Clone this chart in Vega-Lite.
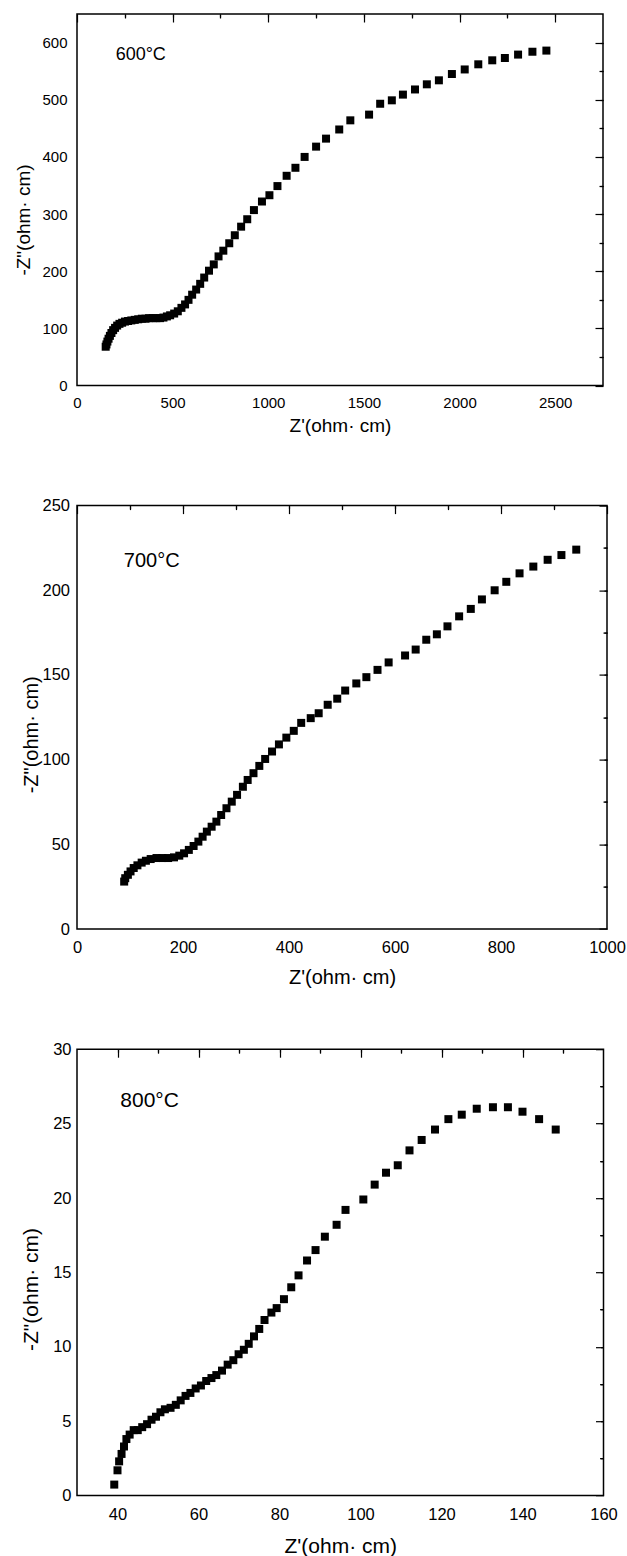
{
  "$schema": "https://vega.github.io/schema/vega-lite/v6.json",
  "autosize": {"type": "pad"},
  "padding": {"left": 13, "top": 12, "right": 5, "bottom": 4},
  "spacing": 119.6,
  "bounds": "flush",
  "config": {
    "font": "Liberation Sans",
    "view": {"stroke": "black", "strokeWidth": 1.5},
    "axis": {"grid": false, "domain": false, "labelColor": "black", "titleColor": "black", "tickColor": "black", "tickWidth": 1.2, "labelFont": "Liberation Sans", "titleFont": "Liberation Sans", "titleFontWeight": "normal", "labelFlush": false, "labelOverlap": false, "format": "d"}
  },
  "datasets": {
    "d600": [
      {"zr":150,"zi":68},{"zr":154,"zi":72},{"zr":159,"zi":77},{"zr":165,"zi":82},{"zr":172,"zi":87},{"zr":180,"zi":92},{"zr":189,"zi":97},{"zr":199,"zi":101},{"zr":210,"zi":105},{"zr":222,"zi":108},{"zr":236,"zi":110},{"zr":251,"zi":112},{"zr":267,"zi":113},{"zr":284,"zi":114},{"zr":302,"zi":115},{"zr":320,"zi":116},{"zr":339,"zi":117},{"zr":358,"zi":117},{"zr":377,"zi":118},{"zr":396,"zi":118},{"zr":415,"zi":118},{"zr":434,"zi":118},{"zr":452,"zi":119},{"zr":470,"zi":121},{"zr":487,"zi":123},{"zr":508,"zi":126},{"zr":527,"zi":130},{"zr":546,"zi":136},{"zr":565,"zi":142},{"zr":583,"zi":150},{"zr":602,"zi":159},{"zr":623,"zi":168},{"zr":644,"zi":178},{"zr":665,"zi":189},{"zr":690,"zi":201},{"zr":715,"zi":212},{"zr":740,"zi":226},{"zr":765,"zi":236},{"zr":796,"zi":249},{"zr":825,"zi":263},{"zr":858,"zi":278},{"zr":890,"zi":291},{"zr":925,"zi":307},{"zr":967,"zi":322},{"zr":1006,"zi":333},{"zr":1048,"zi":349},{"zr":1096,"zi":367},{"zr":1142,"zi":381},{"zr":1190,"zi":400},{"zr":1250,"zi":418},{"zr":1302,"zi":432},{"zr":1371,"zi":448},{"zr":1429,"zi":464},{"zr":1527,"zi":474},{"zr":1585,"zi":493},{"zr":1646,"zi":499},{"zr":1704,"zi":509},{"zr":1767,"zi":518},{"zr":1829,"zi":527},{"zr":1892,"zi":534},{"zr":1960,"zi":545},{"zr":2027,"zi":553},{"zr":2098,"zi":562},{"zr":2171,"zi":569},{"zr":2237,"zi":573},{"zr":2306,"zi":579},{"zr":2381,"zi":584},{"zr":2454,"zi":586}
    ],
    "d700": [
      {"zr":89,"zi":28},{"zr":91,"zi":30},{"zr":96,"zi":32},{"zr":101,"zi":34},{"zr":107,"zi":36},{"zr":114,"zi":37.6},{"zr":122,"zi":39.2},{"zr":130,"zi":40.3},{"zr":139,"zi":41.3},{"zr":150,"zi":41.9},{"zr":161,"zi":41.9},{"zr":172,"zi":41.9},{"zr":183,"zi":42.3},{"zr":193,"zi":43.3},{"zr":202,"zi":44.7},{"zr":211,"zi":46.7},{"zr":220,"zi":49},{"zr":229,"zi":51.6},{"zr":237,"zi":54.5},{"zr":245,"zi":57.5},{"zr":254,"zi":60.4},{"zr":263,"zi":63.4},{"zr":272,"zi":67.3},{"zr":282,"zi":71.3},{"zr":292,"zi":75.2},{"zr":302,"zi":79.2},{"zr":313,"zi":84},{"zr":322,"zi":88},{"zr":333,"zi":92},{"zr":344,"zi":96.3},{"zr":355,"zi":100.4},{"zr":368,"zi":104.8},{"zr":381,"zi":109},{"zr":395,"zi":113},{"zr":409,"zi":117},{"zr":423,"zi":121.7},{"zr":441,"zi":124.5},{"zr":456,"zi":127.4},{"zr":473,"zi":132.4},{"zr":491,"zi":136},{"zr":506,"zi":140.8},{"zr":527,"zi":145},{"zr":546,"zi":148.7},{"zr":567,"zi":153},{"zr":588,"zi":157.4},{"zr":619,"zi":161.5},{"zr":639,"zi":165},{"zr":659,"zi":170.8},{"zr":679,"zi":174},{"zr":699,"zi":178.7},{"zr":721,"zi":184.6},{"zr":743,"zi":189},{"zr":764,"zi":194.6},{"zr":788,"zi":200},{"zr":810,"zi":205},{"zr":835,"zi":210},{"zr":861,"zi":214},{"zr":888,"zi":218},{"zr":914,"zi":220.8},{"zr":942,"zi":224}
    ],
    "d800": [
      {"zr":39.2,"zi":0.74},{"zr":40.0,"zi":1.7},{"zr":40.4,"zi":2.3},{"zr":41.0,"zi":2.8},{"zr":41.6,"zi":3.3},{"zr":42.2,"zi":3.8},{"zr":43.0,"zi":4.1},{"zr":44.0,"zi":4.4},{"zr":45.0,"zi":4.4},{"zr":46.1,"zi":4.6},{"zr":47.3,"zi":4.8},{"zr":48.4,"zi":5.1},{"zr":49.5,"zi":5.3},{"zr":50.6,"zi":5.6},{"zr":51.7,"zi":5.8},{"zr":53.1,"zi":5.9},{"zr":54.4,"zi":6.1},{"zr":55.6,"zi":6.4},{"zr":56.8,"zi":6.7},{"zr":58.0,"zi":6.9},{"zr":59.3,"zi":7.2},{"zr":60.6,"zi":7.4},{"zr":61.9,"zi":7.7},{"zr":63.2,"zi":7.9},{"zr":64.4,"zi":8.1},{"zr":65.8,"zi":8.4},{"zr":67.2,"zi":8.8},{"zr":68.6,"zi":9.1},{"zr":69.9,"zi":9.5},{"zr":71.2,"zi":9.8},{"zr":72.4,"zi":10.2},{"zr":73.7,"zi":10.7},{"zr":75.0,"zi":11.2},{"zr":76.3,"zi":11.8},{"zr":78.0,"zi":12.3},{"zr":79.3,"zi":12.6},{"zr":81.1,"zi":13.2},{"zr":82.9,"zi":14.0},{"zr":84.7,"zi":14.8},{"zr":86.8,"zi":15.8},{"zr":88.9,"zi":16.5},{"zr":91.2,"zi":17.4},{"zr":94.1,"zi":18.2},{"zr":96.3,"zi":19.2},{"zr":100.7,"zi":19.9},{"zr":103.5,"zi":20.9},{"zr":106.3,"zi":21.7},{"zr":109.2,"zi":22.2},{"zr":112.1,"zi":23.2},{"zr":115.1,"zi":23.9},{"zr":118.4,"zi":24.6},{"zr":121.7,"zi":25.3},{"zr":125.0,"zi":25.6},{"zr":128.7,"zi":26.0},{"zr":132.7,"zi":26.1},{"zr":136.4,"zi":26.1},{"zr":140.0,"zi":25.8},{"zr":144.1,"zi":25.3},{"zr":148.2,"zi":24.6}
    ],
    "one": [{"k": 1}]
  },
  "vconcat": [
    {
      "width": 526, "height": 371.6,
      "data": {"name": "d600"},
      "resolve": {"axis": {"x": "independent", "y": "independent"}},
      "layer": [
        {
          "mark": {"type": "point", "shape": "square", "filled": true, "size": 64, "color": "black", "opacity": 1},
          "encoding": {
            "x": {"field": "zr", "type": "quantitative", "scale": {"domain": [0, 2750], "nice": false, "zero": false},
              "axis": {"title": "Z'(ohm· cm)", "format": "d", "values": [0, 500, 1000, 1500, 2000, 2500], "ticks": false, "labelFontSize": 15, "labelPadding": 9.6, "labelBaseline": "top", "titleFontSize": 19, "titleBaseline": "alphabetic", "titleY": 45.7}},
            "y": {"field": "zi", "type": "quantitative", "scale": {"domain": [0, 650], "nice": false, "zero": false},
              "axis": {"title": "-Z\"(ohm· cm)", "format": "d", "values": [0, 100, 200, 300, 400, 500, 600], "ticks": false, "labelFontSize": 15, "labelPadding": 10, "titleFontSize": 19, "titleAngle": -90, "titleBaseline": "alphabetic", "titleAlign": "center", "titleX": -48, "titleY": 205.5}}
          }
        },
        {
          "mark": {"type": "point", "opacity": 0},
          "encoding": {
            "x": {"field": "zr", "type": "quantitative", "scale": {"domain": [0, 2750], "nice": false, "zero": false}, "axis": {"labels": false, "title": null, "values": [0, 500, 1000, 1500, 2000, 2500], "tickSize": -8}},
            "y": {"field": "zi", "type": "quantitative", "scale": {"domain": [0, 650], "nice": false, "zero": false}, "axis": {"labels": false, "title": null, "values": [0, 100, 200, 300, 400, 500, 600], "tickSize": -8}}
          }
        },
        {
          "mark": {"type": "point", "opacity": 0},
          "encoding": {
            "x": {"field": "zr", "type": "quantitative", "scale": {"domain": [0, 2750], "nice": false, "zero": false}, "axis": {"labels": false, "title": null, "values": [250, 750, 1250, 1750, 2250], "tickSize": -4}},
            "y": {"field": "zi", "type": "quantitative", "scale": {"domain": [0, 650], "nice": false, "zero": false}, "axis": {"labels": false, "title": null, "values": [50, 150, 250, 350, 450, 550], "tickSize": -4}}
          }
        },
        {
          "mark": {"type": "point", "opacity": 0},
          "encoding": {
            "x": {"field": "zr", "type": "quantitative", "scale": {"domain": [0, 2750], "nice": false, "zero": false}, "axis": {"orient": "top", "labels": false, "title": null, "values": [250, 500, 750, 1000, 1250, 1500, 1750, 2000, 2250, 2500], "tickSize": -3}},
            "y": {"field": "zi", "type": "quantitative", "scale": {"domain": [0, 650], "nice": false, "zero": false}, "axis": {"orient": "right", "labels": false, "title": null, "values": [50, 100, 150, 200, 250, 300, 350, 400, 450, 500, 550, 600], "tickSize": -3}}
          }
        },
        {
          "data": {"name": "one"},
          "mark": {"type": "text", "align": "left", "baseline": "alphabetic", "fontSize": 18, "font": "Liberation Sans", "color": "black"},
          "encoding": {
            "x": {"datum": 202, "type": "quantitative", "axis": null},
            "y": {"datum": 570, "type": "quantitative", "axis": null},
            "text": {"value": "600°C"}
          }
        }
      ]
    },
    {
      "width": 530, "height": 423.4,
      "data": {"name": "d700"},
      "resolve": {"axis": {"x": "independent", "y": "independent"}},
      "layer": [
        {
          "mark": {"type": "point", "shape": "square", "filled": true, "size": 64, "color": "black", "opacity": 1},
          "encoding": {
            "x": {"field": "zr", "type": "quantitative", "scale": {"domain": [0, 1000], "nice": false, "zero": false},
              "axis": {"title": "Z'(ohm· cm)", "format": "d", "values": [0, 200, 400, 600, 800, 1000], "ticks": false, "labelFontSize": 16.5, "labelPadding": 10.5, "labelBaseline": "top", "titleFontSize": 20, "titleBaseline": "alphabetic", "titleY": 54.3}},
            "y": {"field": "zi", "type": "quantitative", "scale": {"domain": [0, 250], "nice": false, "zero": false},
              "axis": {"title": "-Z\"(ohm· cm)", "format": "d", "values": [0, 50, 100, 150, 200, 250], "ticks": false, "labelFontSize": 16.5, "labelPadding": 7.5, "titleFontSize": 20, "titleAngle": -90, "titleBaseline": "alphabetic", "titleAlign": "center", "titleX": -40, "titleY": 228.7}}
          }
        },
        {
          "mark": {"type": "point", "opacity": 0},
          "encoding": {
            "x": {"field": "zr", "type": "quantitative", "scale": {"domain": [0, 1000], "nice": false, "zero": false}, "axis": {"labels": false, "title": null, "values": [0, 200, 400, 600, 800, 1000], "tickSize": -8}},
            "y": {"field": "zi", "type": "quantitative", "scale": {"domain": [0, 250], "nice": false, "zero": false}, "axis": {"labels": false, "title": null, "values": [0, 50, 100, 150, 200, 250], "tickSize": -8}}
          }
        },
        {
          "mark": {"type": "point", "opacity": 0},
          "encoding": {
            "x": {"field": "zr", "type": "quantitative", "scale": {"domain": [0, 1000], "nice": false, "zero": false}, "axis": {"labels": false, "title": null, "values": [100, 300, 500, 700, 900], "tickSize": -4}},
            "y": {"field": "zi", "type": "quantitative", "scale": {"domain": [0, 250], "nice": false, "zero": false}, "axis": {"labels": false, "title": null, "values": [25, 75, 125, 175, 225], "tickSize": -4}}
          }
        },
        {
          "mark": {"type": "point", "opacity": 0},
          "encoding": {
            "x": {"field": "zr", "type": "quantitative", "scale": {"domain": [0, 1000], "nice": false, "zero": false}, "axis": {"orient": "top", "labels": false, "title": null, "values": [100, 200, 300, 400, 500, 600, 700, 800, 900], "tickSize": -3}},
            "y": {"field": "zi", "type": "quantitative", "scale": {"domain": [0, 250], "nice": false, "zero": false}, "axis": {"orient": "right", "labels": false, "title": null, "values": [25, 50, 75, 100, 125, 150, 175, 200, 225], "tickSize": -3}}
          }
        },
        {
          "data": {"name": "one"},
          "mark": {"type": "text", "align": "left", "baseline": "alphabetic", "fontSize": 20, "font": "Liberation Sans", "color": "black"},
          "encoding": {
            "x": {"datum": 88.4, "type": "quantitative", "axis": null},
            "y": {"datum": 213.5, "type": "quantitative", "axis": null},
            "text": {"value": "700°C"}
          }
        }
      ]
    },
    {
      "width": 526.5, "height": 446.4,
      "data": {"name": "d800"},
      "resolve": {"axis": {"x": "independent", "y": "independent"}},
      "layer": [
        {
          "mark": {"type": "point", "shape": "square", "filled": true, "size": 64, "color": "black", "opacity": 1},
          "encoding": {
            "x": {"field": "zr", "type": "quantitative", "scale": {"domain": [30, 160], "nice": false, "zero": false},
              "axis": {"title": "Z'(ohm· cm)", "format": "d", "values": [40, 60, 80, 100, 120, 140, 160], "ticks": false, "labelFontSize": 16.5, "labelPadding": 10.8, "labelBaseline": "top", "titleFontSize": 21, "titleBaseline": "alphabetic", "titleY": 57.3}},
            "y": {"field": "zi", "type": "quantitative", "scale": {"domain": [0, 30], "nice": false, "zero": false},
              "axis": {"title": "-Z\"(ohm· cm)", "format": "d", "values": [0, 5, 10, 15, 20, 25, 30], "ticks": false, "labelFontSize": 16.5, "labelPadding": 6, "titleFontSize": 21, "titleAngle": -90, "titleBaseline": "alphabetic", "titleAlign": "center", "titleX": -40, "titleY": 239.8}}
          }
        },
        {
          "mark": {"type": "point", "opacity": 0},
          "encoding": {
            "x": {"field": "zr", "type": "quantitative", "scale": {"domain": [30, 160], "nice": false, "zero": false}, "axis": {"labels": false, "title": null, "values": [40, 60, 80, 100, 120, 140], "tickSize": -8}},
            "y": {"field": "zi", "type": "quantitative", "scale": {"domain": [0, 30], "nice": false, "zero": false}, "axis": {"labels": false, "title": null, "values": [0, 5, 10, 15, 20, 25, 30], "tickSize": -8}}
          }
        },
        {
          "mark": {"type": "point", "opacity": 0},
          "encoding": {
            "x": {"field": "zr", "type": "quantitative", "scale": {"domain": [30, 160], "nice": false, "zero": false}, "axis": {"labels": false, "title": null, "values": [50, 70, 90, 110, 130, 150], "tickSize": -4}},
            "y": {"field": "zi", "type": "quantitative", "scale": {"domain": [0, 30], "nice": false, "zero": false}, "axis": {"labels": false, "title": null, "values": [2.5, 7.5, 12.5, 17.5, 22.5, 27.5], "tickSize": -4}}
          }
        },
        {
          "mark": {"type": "point", "opacity": 0},
          "encoding": {
            "x": {"field": "zr", "type": "quantitative", "scale": {"domain": [30, 160], "nice": false, "zero": false}, "axis": {"orient": "top", "labels": false, "title": null, "values": [40, 50, 60, 70, 80, 90, 100, 110, 120, 130, 140, 150], "tickSize": -3}},
            "y": {"field": "zi", "type": "quantitative", "scale": {"domain": [0, 30], "nice": false, "zero": false}, "axis": {"orient": "right", "labels": false, "title": null, "values": [2.5, 5, 7.5, 10, 12.5, 15, 17.5, 20, 22.5, 25, 27.5], "tickSize": -3}}
          }
        },
        {
          "data": {"name": "one"},
          "mark": {"type": "text", "align": "left", "baseline": "alphabetic", "fontSize": 21, "font": "Liberation Sans", "color": "black"},
          "encoding": {
            "x": {"datum": 40.7, "type": "quantitative", "axis": null},
            "y": {"datum": 26.1, "type": "quantitative", "axis": null},
            "text": {"value": "800°C"}
          }
        }
      ]
    }
  ]
}
